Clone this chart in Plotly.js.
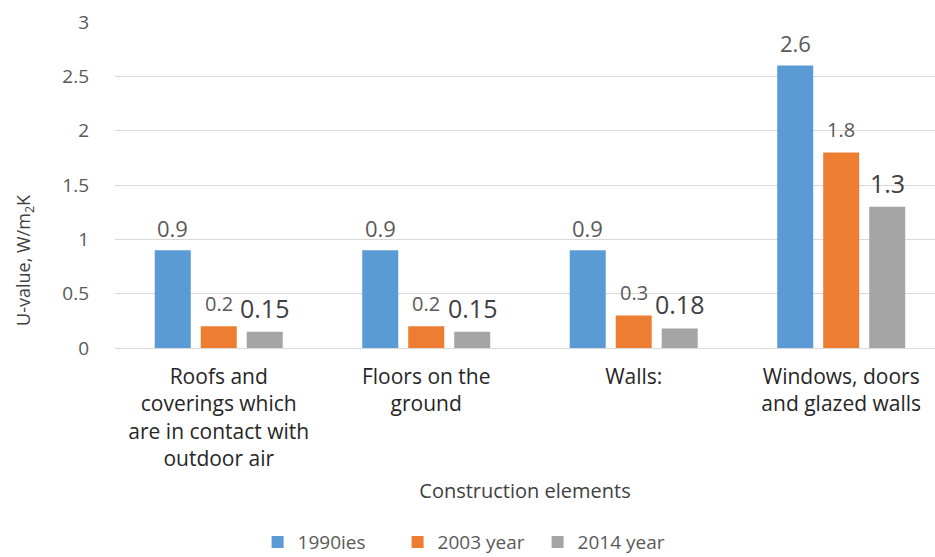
<!DOCTYPE html>
<html>
<head>
<meta charset="utf-8">
<script src="https://cdn.plot.ly/plotly-3.0.1.min.js"></script>
<style>html,body{margin:0;padding:0;background:#fff}#chart{width:935px;height:557px}</style>
</head>
<body>
<div id="chart"></div>
<script>
const categories = [
  "Roofs and<br>coverings which<br>are in contact with<br>outdoor air",
  "Floors on the<br>ground",
  "Walls:",
  "Windows, doors<br>and glazed walls"
];
const seriesNames = ["1990ies", "2003 year", "2014 year"];
const values1990 = [0.9, 0.9, 0.9, 2.6];
const values2003 = [0.2, 0.2, 0.3, 1.8];
const values2014 = [0.15, 0.15, 0.18, 1.3];
const labels1990 = ["0.9", "0.9", "0.9", "2.6"];
const labels2003 = ["0.2", "0.2", "0.3", "1.8"];
const labels2014 = ["0.15", "0.15", "0.18", "1.3"];
const yTicks = [0, 0.5, 1, 1.5, 2, 2.5, 3];
const yTitle = "U-value, W/m<sub>2</sub>K";
const xTitle = "Construction elements";

const FONT = "Open Sans, sans-serif";
const colors = ["#5b9bd5", "#ed7d31", "#a5a5a5"];
const allValues = [values1990, values2003, values2014];
const allLabels = [labels1990, labels2003, labels2014];
const labelFonts = [
  {family: FONT, size: 22, color: "#595959"},
  {family: FONT, size: 20, color: "#595959"},
  {family: FONT, size: 25, color: "#404040"}
];
const xShifts = [-46, 0, 46];
const yShifts = [5, 7, 5];

const traces = allValues.map((vals, i) => ({
  type: "bar",
  name: seriesNames[i],
  x: categories,
  y: vals,
  marker: {color: colors[i]},
  hoverinfo: "skip"
}));

const annotations = [];
allValues.forEach((vals, i) => {
  vals.forEach((v, j) => {
    annotations.push({
      x: categories[j], y: v, xref: "x", yref: "y",
      text: allLabels[i][j], showarrow: false,
      yanchor: "bottom", xanchor: "center",
      xshift: xShifts[i], yshift: yShifts[i],
      font: labelFonts[i]
    });
  });
});
annotations.push({
  text: yTitle, xref: "paper", yref: "paper",
  x: -0.1098, y: 0.27, xanchor: "center", yanchor: "middle",
  textangle: -90, showarrow: false,
  font: {family: FONT, size: 18, color: "#404040"}
});

const layout = {
  width: 935, height: 557,
  margin: {l: 115, r: 0, t: 22, b: 209, autoexpand: false},
  paper_bgcolor: "#ffffff", plot_bgcolor: "#ffffff",
  barmode: "group",
  bargap: 0.335,
  bargroupgap: 0.217,
  font: {family: FONT, color: "#404040"},
  xaxis: {
    type: "category",
    range: [-0.5, 3.452],
    automargin: false,
    showgrid: false, zeroline: false, showline: false,
    ticks: "",
    ticklabelstandoff: 14,
    tickfont: {size: 21, color: "#262626"},
    title: {text: xTitle, font: {size: 20, color: "#404040"}, standoff: 13}
  },
  yaxis: {
    range: [0, 3],
    automargin: false,
    tickvals: yTicks,
    ticktext: yTicks.map(String),
    showgrid: true, gridcolor: "#d9d9d9", gridwidth: 1,
    zeroline: true, zerolinecolor: "#d9d9d9", zerolinewidth: 1,
    showline: false, ticks: "",
    ticklabelstandoff: 25,
    tickfont: {size: 19, color: "#595959"}
  },
  showlegend: true,
  legend: {
    orientation: "h",
    x: 0.43, xanchor: "center",
    y: -0.537, yanchor: "top",
    font: {size: 19, color: "#595959"},
    itemwidth: 30,
    entrywidth: 95,
    entrywidthmode: "pixels",
    traceorder: "normal"
  },
  annotations: annotations
};

Plotly.newPlot("chart", traces, layout, {displayModeBar: false, staticPlot: true});
</script>
</body>
</html>
